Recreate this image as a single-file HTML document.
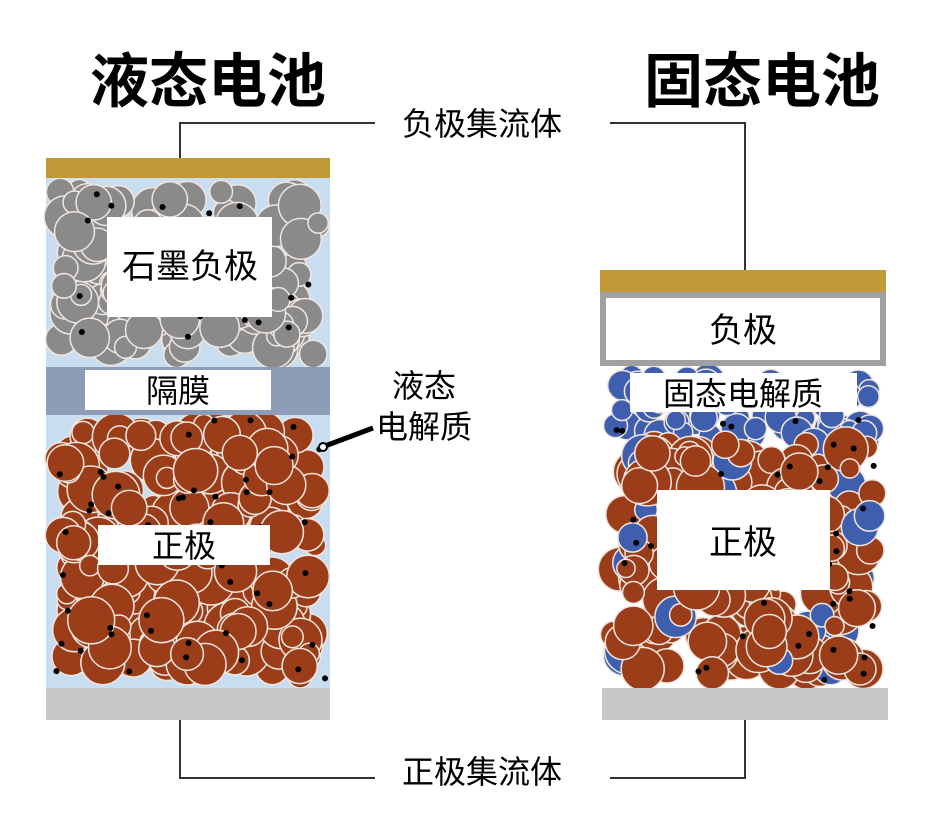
<!DOCTYPE html>
<html><head><meta charset="utf-8"><style>
body{margin:0;background:#fff;}
svg text{font-family:"Liberation Sans","Noto Sans CJK SC",sans-serif;}
</style></head><body>
<svg id="s" width="928" height="814" viewBox="0 0 928 814" xmlns="http://www.w3.org/2000/svg">
<rect x="0" y="0" width="928" height="814" fill="#fff"/>
<rect x="46" y="178" width="284" height="510" fill="#c9ddf1"/>
<g id="lg"></g>
<g id="lb"></g>
<rect x="46" y="158" width="284" height="20" fill="#c19a37"/>
<rect x="46" y="367" width="284" height="48" fill="#8e9db7"/>
<rect x="46" y="688" width="284" height="32" fill="#c8c8c8"/>
<g id="rg"></g>
<rect x="600" y="270" width="286" height="22" fill="#c19a37"/>
<rect x="600" y="292" width="286" height="74" fill="#a0a0a0"/>
<rect x="606" y="298" width="274" height="62" fill="#fff"/>
<rect x="602" y="688" width="286" height="32" fill="#c8c8c8"/>
<rect x="107" y="217" width="165" height="100" fill="#fff"/>
<rect x="85" y="370" width="186" height="40" fill="#fff"/>
<rect x="98" y="525" width="172" height="40" fill="#fff"/>
<rect x="630" y="373" width="227" height="39" fill="#fff"/>
<rect x="657" y="490" width="173" height="100" fill="#fff"/>
<g stroke="#333" stroke-width="2" fill="none">
<polyline points="180,158 180,123 375,123"/>
<polyline points="610,123 745,123 745,270"/>
<polyline points="180,720 180,778 375,778"/>
<polyline points="610,778 745,778 745,720"/>
</g>
<line x1="325" y1="446" x2="373" y2="428" stroke="#000" stroke-width="5"/>
<circle cx="323" cy="447" r="4" fill="#fff" stroke="#000" stroke-width="2"/>
<g font-size="59" font-weight="bold" fill="#000">
<text x="90" y="102">液态电池</text>
<text x="644" y="102">固态电池</text>
</g>
<g font-size="32" fill="#000" text-anchor="middle">
<text x="482" y="135">负极集流体</text>
<text x="482" y="783">正极集流体</text>
<text x="190" y="278" font-size="34">石墨负极</text>
<text x="178" y="402">隔膜</text>
<text x="184" y="557">正极</text>
<text x="743" y="342" font-size="34">负极</text>
<text x="743" y="405">固态电解质</text>
<text x="743" y="554" font-size="34">正极</text>
<text x="424" y="397">液态</text>
<text x="424" y="438">电解质</text>
</g>
</svg>
<script>
var seed=7;function R(){seed=(seed*16807)%2147483647;return (seed-1)/2147483646;}
var NS="http://www.w3.org/2000/svg";
function c(g,x,y,r,f){var e=document.createElementNS(NS,"circle");e.setAttribute("cx",x);e.setAttribute("cy",y);e.setAttribute("r",r);e.setAttribute("fill",f);e.setAttribute("stroke","#f0e6e0");e.setAttribute("stroke-width","1.5");document.getElementById(g).appendChild(e);}
function dot(g,x,y){var e=document.createElementNS(NS,"circle");e.setAttribute("cx",x);e.setAttribute("cy",y);e.setAttribute("r",3);e.setAttribute("fill","#000");document.getElementById(g).appendChild(e);}
function fill(g,x0,y0,x1,y1,n,rmin,rmax,col){for(var i=0;i<n;i++){var r=rmin+R()*(rmax-rmin);var x=x0+r*0.8+R()*(x1-x0-r*1.6);var y=y0+r*0.8+R()*(y1-y0-r*1.6);c(g,x,y,r,typeof col=="function"?col():col);}}
fill("lg",48,180,328,366,160,10,22,"#8a8a8a");
for(var i=0;i<30;i++)dot("lg",55+R()*270,185+R()*175);
fill("lb",48,416,328,686,240,10,24,"#9b3d18");
for(var i=0;i<50;i++)dot("lb",55+R()*270,420+R()*260);
fill("rg",602,367,884,450,90,8,17,"#3f5fae");
fill("rg",602,430,884,688,240,9,24,function(){return R()<0.2?"#3f5fae":"#9b3d18";});
for(var i=0;i<45;i++)dot("rg",610+R()*270,420+R()*265);
</script>
</body></html>
